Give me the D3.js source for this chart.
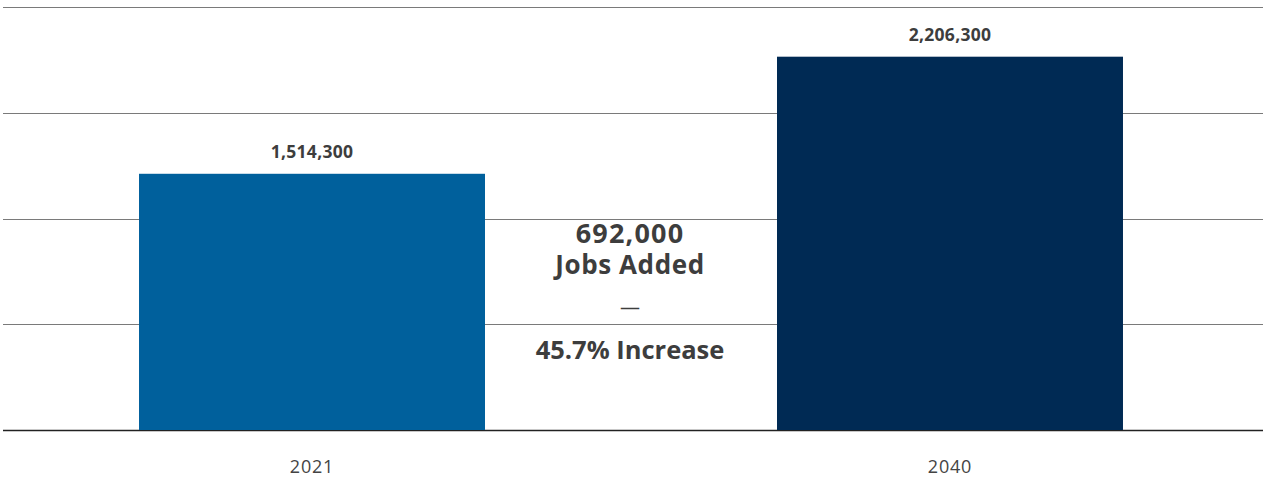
<!DOCTYPE html>
<html><head><meta charset="utf-8">
<script src="https://cdn.jsdelivr.net/npm/d3@7"></script>
<style>body{margin:0;background:#fff;}svg{display:block;}</style>
</head><body>
<svg id="c" width="1263" height="481"></svg>
<script>
const categories = ["2021", "2040"];
const values = [1514300, 2206300];
const barColors = ["#00609c", "#002a54"];
const gridTicks = [0, 625000, 1250000, 1875000, 2500000];
const centerLines = ["692,000", "Jobs Added", "—", "45.7% Increase"];

const svg = d3.select("#c");
const font = "'Open Sans', sans-serif";
const x = d3.scaleBand().domain(categories).range([0, 1262]).paddingInner(0.4577).paddingOuter(0.2179);
const y = d3.scaleLinear().domain([0, 2500000]).range([430, 7]);

svg.append("g").selectAll("line").data(gridTicks.slice(1)).join("line")
  .attr("x1", 3).attr("x2", 1263)
  .attr("y1", d => Math.round(y(d)) + 0.5).attr("y2", d => Math.round(y(d)) + 0.5)
  .attr("stroke", "#7a7a7a").attr("stroke-width", 1.2);

svg.append("line").attr("x1", 3).attr("x2", 1263)
  .attr("y1", y(0) + 0.5).attr("y2", y(0) + 0.5)
  .attr("stroke", "#222").attr("stroke-width", 1.4);

svg.append("g").selectAll("rect").data(values).join("rect")
  .attr("x", (d, i) => x(categories[i]))
  .attr("width", x.bandwidth())
  .attr("y", d => y(d))
  .attr("height", d => y(0) - y(d))
  .attr("fill", (d, i) => barColors[i]);

svg.append("g").selectAll("text").data(values).join("text")
  .attr("x", (d, i) => x(categories[i]) + x.bandwidth() / 2)
  .attr("y", d => y(d) - 16)
  .attr("text-anchor", "middle")
  .attr("font-family", font).attr("font-weight", 700).attr("font-size", 17.5)
  .attr("letter-spacing", 0.3)
  .attr("fill", "#3d3d3d")
  .text(d => d3.format(",")(d));

const xAxis = d3.axisBottom(x).tickSize(0).tickPadding(0);
const ax = svg.append("g").attr("transform", "translate(0,430)").call(xAxis);
ax.select(".domain").remove();
ax.selectAll("text").attr("y", 43).attr("dy", 0)
  .attr("font-family", font).attr("font-size", 18).attr("letter-spacing", 0.8).attr("fill", "#444");

const cx = 630;
const cy = [242.5, 274, 314, 359];
const cs = [27, 26, 20, 25.5];
const ls = [1.2, 0.6, 0, 0];
svg.append("g").selectAll("text").data(centerLines).join("text")
  .attr("x", cx).attr("y", (d, i) => cy[i])
  .attr("text-anchor", "middle")
  .attr("font-family", font)
  .attr("font-weight", (d, i) => i === 2 ? 400 : 700)
  .attr("font-size", (d, i) => cs[i])
  .attr("letter-spacing", (d, i) => ls[i])
  .attr("fill", "#3d3d3d")
  .text(d => d);
</script>
</body></html>
